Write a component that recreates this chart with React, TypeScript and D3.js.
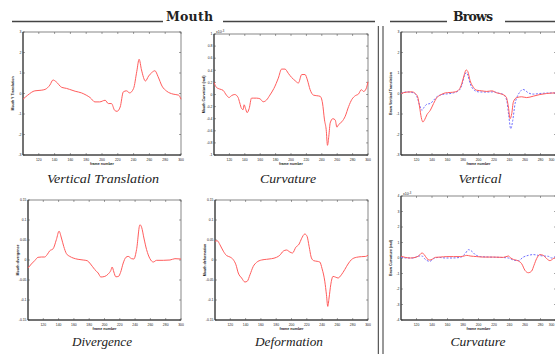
import React from "react";
import * as d3 from "d3";

// x positions are frame numbers, y values in the units of each panel
const xTickValues = [120, 140, 160, 180, 200, 220, 240, 260, 280, 300];

const vtX = [100, 106, 115, 123, 128, 134, 138, 142, 149, 155, 159, 166, 174, 180, 185, 191, 197, 204, 208, 212, 216, 219, 223, 227, 231, 235, 240, 244, 247, 250, 255, 259, 263, 267, 271, 276, 282, 290, 297, 300];
const vtY = [-0.28, -0.08, 0.13, 0.16, 0.2, 0.41, 0.66, 0.57, 0.3, 0.25, 0.2, 0.11, 0.03, -0.08, -0.2, -0.41, -0.41, -0.33, -0.49, -0.49, -0.82, -0.87, -0.66, 0.08, 0.13, 0.03, 0.25, 1.07, 1.67, 1.15, 0.61, 0.85, 1.02, 1.11, 0.82, 0.36, 0.11, -0.03, -0.08, -0.28];

const mcX = [100, 103, 107.4, 111.7, 116.1, 119.6, 122.6, 127, 131.3, 133.5, 135.7, 137.8, 139.1, 140.9, 143, 145.7, 148.7, 150.9, 155.2, 159.6, 163.9, 168.3, 172.6, 177.8, 183.5, 187.8, 192.2, 196.5, 200.9, 205.2, 209.6, 213.9, 218.3, 221.3, 224.8, 229.1, 233.5, 237.8, 240.9, 243.5, 245.7, 247.4, 249.1, 250.9, 254.3, 257.4, 259.6, 261.7, 266.1, 270.4, 274.8, 279.1, 283.5, 287.8, 291.3, 294.3, 297.4, 300];
const mcY = [0.2, 0.12, 0.09, 0.07, -0.01, -0.05, -0.02, 0, -0.05, -0.14, -0.23, -0.25, -0.17, -0.23, -0.3, -0.23, -0.06, -0.06, -0.06, -0.07, -0.12, -0.09, -0.01, 0.1, 0.27, 0.42, 0.42, 0.35, 0.28, 0.23, 0.19, 0.33, 0.33, 0.24, 0.08, -0.01, -0.02, -0.03, -0.14, -0.42, -0.58, -0.84, -0.69, -0.47, -0.4, -0.42, -0.54, -0.5, -0.45, -0.36, -0.2, -0.08, -0.02, 0.01, 0.08, 0.05, 0.09, 0.21];

const bvRedX = [100, 107.7, 114.2, 118.4, 121.5, 124, 126.2, 128.3, 130.5, 133.5, 137.8, 142, 146.3, 150.6, 157.1, 163.5, 169.9, 175.1, 178.5, 181.5, 184.1, 186.2, 189.2, 193.5, 197.8, 204.2, 210.7, 217.1, 223.6, 230, 235.6, 238.6, 240.7, 242.9, 245, 249.3, 255.7, 262.2, 270.7, 279.3, 287.9, 300];
const bvRedY = [0, 0.07, 0.08, 0, -0.16, -0.66, -1.18, -1.39, -1.28, -1.03, -0.82, -0.49, -0.2, -0.08, 0.03, 0.05, 0.08, 0.2, 0.49, 0.9, 1.15, 1.07, 0.62, 0.3, 0.16, 0.13, 0.1, 0.13, 0.03, -0.03, -0.16, -0.66, -1.23, -0.98, -0.41, -0.2, -0.16, -0.2, -0.13, -0.05, 0, 0.03];
const bvBlueX = [100, 107.7, 116.3, 120.6, 124, 127, 130, 133.5, 137.8, 142, 146.3, 152.8, 159.2, 167.8, 175.1, 178.5, 181.5, 184.1, 186.2, 189.2, 193.5, 200, 210.7, 219.3, 225.7, 232.1, 236.4, 239, 241.6, 244.2, 247.2, 250.2, 253.6, 257, 260, 264.3, 270.7, 279.3, 287.9, 300];
const bvBlueY = [0, 0.08, 0.03, -0.16, -0.57, -0.82, -0.66, -0.52, -0.49, -0.33, -0.16, -0.05, -0.02, 0.03, 0.16, 0.41, 0.82, 1.02, 0.9, 0.49, 0.2, 0.08, 0.07, 0.08, 0.02, -0.05, -0.33, -1.07, -1.72, -1.31, -0.49, -0.13, 0.08, 0.2, 0.16, 0.03, -0.03, 0, 0.02, 0.03];

const dvX = [100, 104.4, 108.7, 113.1, 117.5, 121.8, 124.9, 128.4, 132.8, 137.1, 140.6, 143.7, 146.7, 150.2, 154.6, 159, 165.5, 172.1, 177.3, 181.7, 187.3, 191.7, 195.2, 200.4, 204.8, 208.3, 210, 212.2, 214.8, 218.3, 221, 224.5, 228, 231, 235.4, 238.4, 241.9, 246.3, 248.5, 251.5, 255, 259.4, 263.8, 268.1, 276.9, 285.6, 292.1, 300];
const dvY = [-0.02, -0.01, -0.0017, 0.0067, 0.0075, 0.0075, 0.013, 0.023, 0.028, 0.051, 0.072, 0.055, 0.034, 0.016, 0.009, 0.005, 0.0017, 0, -0.0017, -0.01, -0.024, -0.0325, -0.0425, -0.041, -0.035, -0.026, -0.0175, -0.03, -0.042, -0.041, -0.031, -0.0075, 0.0067, 0.009, 0.0033, 0.0025, 0.026, 0.088, 0.082, 0.055, 0.026, 0.0033, -0.005, -0.0008, -0.0008, 0, 0.0033, 0.0025];

const dfX = [100, 103, 106.5, 110.9, 115.2, 119.6, 123.9, 127.4, 130.4, 134.8, 139.1, 142.2, 145.7, 150, 154.3, 160.9, 167.4, 173.9, 180.4, 184.8, 189.1, 193.5, 197.8, 201.3, 205.7, 210, 213, 217.4, 220.4, 223, 226.1, 229.1, 233.5, 237, 240, 243.5, 245.7, 247.4, 249.1, 251.3, 254.3, 257.8, 260.9, 265.2, 269.6, 273.9, 278.3, 284.8, 291.3, 297, 300];
const dfY = [0.047, 0.048, 0.038, 0.022, 0.011, 0.0075, 0.0008, -0.012, -0.0325, -0.045, -0.055, -0.053, -0.037, -0.016, -0.006, 0, 0.0017, 0.0033, 0.0067, 0.012, 0.022, 0.025, 0.02, 0.0175, 0.032, 0.04, 0.053, 0.065, 0.059, 0.034, 0.005, -0.0017, -0.0033, -0.005, -0.022, -0.053, -0.087, -0.116, -0.095, -0.062, -0.041, -0.043, -0.045, -0.037, -0.024, -0.01, 0.0008, 0.0067, 0.0083, 0.009, 0.012];

const bcRedX = [100, 105.6, 112, 118.4, 122.7, 127, 130, 133.5, 136.9, 139.9, 144.2, 150.6, 159.2, 167.8, 176.4, 181.5, 184.9, 189.2, 197.8, 206.4, 219.3, 232.1, 238.6, 241.6, 245, 251.4, 255.7, 260, 264.3, 268.6, 271.6, 275, 279.3, 283.6, 287.9, 292.2, 296.5, 300];
const bcRedY = [0.11, 0.04, 0, 0.04, 0.13, 0.32, 0.22, -0.04, -0.13, -0.09, 0.04, 0.06, 0.09, 0.09, 0.09, 0.13, 0.17, 0.13, 0.09, 0.06, 0.06, 0.04, 0.13, 0, -0.09, -0.19, -0.37, -0.8, -0.95, -0.84, -0.47, -0.04, 0.22, 0.17, -0.04, -0.17, -0.04, 0.04];
const bcBlueX = [100, 107.7, 116.3, 122.7, 127, 131.3, 136.9, 142, 148.5, 157.1, 165.6, 176.4, 182.8, 187.1, 191.4, 195.7, 202.1, 215, 227.8, 238.6, 245, 251.4, 257.9, 264.3, 270.7, 277.1, 283.6, 290, 294.3, 300];
const bcBlueY = [0.04, 0, 0, 0.13, 0.13, -0.09, -0.22, -0.04, 0.04, 0, 0, 0.04, 0.28, 0.54, 0.43, 0.22, 0.09, 0.06, 0.04, 0, -0.13, -0.17, 0.06, 0.17, 0.22, 0.17, 0.13, 0.11, 0, 0.13];

const ticks3 = [-3, -2, -1, 0, 1, 2, 3];
const ticks3Labels = ["-3", "-2", "-1", "0", "1", "2", "3"];
const ticks1 = [-1, -0.8, -0.6, -0.4, -0.2, 0, 0.2, 0.4, 0.6, 0.8, 1];
const ticks1Labels = ["-1", "-0.8", "-0.6", "-0.4", "-0.2", "0", "0.2", "0.4", "0.6", "0.8", "1"];
const ticks015 = [-0.15, -0.1, -0.05, 0, 0.05, 0.1, 0.15];
const ticks015Labels = ["-0.15", "-0.1", "-0.05", "0", "0.05", "0.1", "0.15"];
const ticks4 = [-4, -3, -2, -1, 0, 1, 2, 3, 4];
const ticks4Labels = ["-4", "-3", "-2", "-1", "0", "1", "2", "3", "4"];

const RED = "#ff5c5c";
const BLUE = "#7070ff";
const TITLE_FONT = "'Liberation Serif', 'Times New Roman', 'DejaVu Serif', serif";

type Series = { xs: number[]; ys: number[]; color: string; dash?: string };

type PanelProps = {
  left: number; right: number; top: number; bottom: number;
  yTicks: number[]; yLabels: string[];
  series: Series[]; title: string; ylabel: string; exponent?: boolean;
  titleX: number; titleY: number; titleW: number;
};

function Panel(p: PanelProps) {
  const x = d3.scaleLinear().domain([100, 300]).range([p.left, p.right]);
  const y = d3.scaleLinear().domain([p.yTicks[0], p.yTicks[p.yTicks.length - 1]]).range([p.bottom, p.top]);
  const tl = 2;
  const line = d3.line<[number, number]>().x(d => x(d[0])).y(d => y(d[1])).curve(d3.curveMonotoneX);
  return (
    <g>
      <rect x={p.left} y={p.top} width={p.right - p.left} height={p.bottom - p.top} fill="white" stroke="#555" strokeWidth={0.7} />
      <line x1={p.left} x2={p.left} y1={p.top} y2={p.bottom} stroke="#222" strokeWidth={1} />
      <line x1={p.left} x2={p.right} y1={p.bottom} y2={p.bottom} stroke="#222" strokeWidth={1} />
      {xTickValues.map((v, i) => {
        const xx = x(v);
        const edge = xx > 550;
        return (
          <g key={"xt" + i}>
            <line x1={xx} x2={xx} y1={p.bottom} y2={p.bottom - tl} stroke="#444" strokeWidth={0.5} />
            <line x1={xx} x2={xx} y1={p.top} y2={p.top + tl} stroke="#444" strokeWidth={0.5} />
            <text x={edge ? 554.5 : xx} y={p.bottom + 5.5} fontSize={3.4} textAnchor={edge ? "end" : "middle"} fontFamily="Liberation Sans" fill="#222">{v}</text>
          </g>
        );
      })}
      {p.yTicks.map((v, i) => (
        <g key={"yt" + i}>
          <line x1={p.left} x2={p.left + tl} y1={y(v)} y2={y(v)} stroke="#444" strokeWidth={0.5} />
          <line x1={p.right} x2={p.right - tl} y1={y(v)} y2={y(v)} stroke="#444" strokeWidth={0.5} />
          <text x={p.left - 1.5} y={y(v) + 1.2} fontSize={3.4} textAnchor="end" fontFamily="Liberation Sans" fill="#222">{p.yLabels[i]}</text>
        </g>
      ))}
      {p.exponent && (
        <text x={p.left + 2} y={p.top - 1} fontSize={3.6} fontFamily="Liberation Sans" fill="#222">x10<tspan fontSize={2.6} dy={-1.2}>-3</tspan></text>
      )}
      <text x={(p.left + p.right) / 2} y={p.bottom + 10} fontSize={3.6} fontWeight="bold" textAnchor="middle" fontFamily="Liberation Sans" fill="#222">frame number</text>
      <text transform={`translate(${p.left - 9.5},${(p.top + p.bottom) / 2}) rotate(-90)`} fontSize={3.6} fontWeight="bold" textAnchor="middle" fontFamily="Liberation Sans" fill="#222">{p.ylabel}</text>
      {p.series.map((s, i) => (
        <path key={"s" + i} d={line(s.xs.map((xv, j) => [xv, s.ys[j]] as [number, number])) || ""} fill="none" stroke={s.color} strokeWidth={1} strokeDasharray={s.dash} />
      ))}
      <text x={p.titleX} y={p.titleY} fontSize={13.5} fontStyle="italic" textAnchor="middle" fontFamily={TITLE_FONT}
        textLength={p.titleW} lengthAdjust="spacingAndGlyphs" fill="#222">{p.title}</text>
    </g>
  );
}

export default function App() {
  return (
    <svg width={555} height={354} style={{ position: "absolute", left: 0, top: 0, background: "white" }}>
      <rect x={0} y={0} width={555} height={354} fill="white" />
      {/* headers */}
      <line x1={12} x2={163} y1={21.5} y2={21.5} stroke="#444" strokeWidth={1.3} />
      <text x={166} y={21} fontSize={12.5} fontWeight="bold" fontFamily="DejaVu Serif" textLength={47} fill="#222">Mouth</text>
      <line x1={223} x2={375} y1={21.5} y2={21.5} stroke="#444" strokeWidth={1.3} />
      <line x1={390} x2={447} y1={21.5} y2={21.5} stroke="#444" strokeWidth={1.3} />
      <text x={453} y={21} fontSize={12.5} fontWeight="bold" fontFamily="DejaVu Serif" textLength={40} fill="#222">Brows</text>
      <line x1={505} x2={555} y1={21.5} y2={21.5} stroke="#444" strokeWidth={1.3} />
      {/* separators */}
      <line x1={378.3} x2={378.3} y1={26} y2={354} stroke="#333" strokeWidth={1} />
      <line x1={383} x2={383} y1={26} y2={354} stroke="#333" strokeWidth={1} />

      <Panel left={23} right={181} top={32} bottom={155} yTicks={ticks3} yLabels={ticks3Labels}
        series={[{ xs: vtX, ys: vtY, color: RED }]} title="Vertical Translation" ylabel="Mouth Y Translation"
        titleX={103} titleY={183} titleW={112} />
      <Panel left={214} right={368} top={34} bottom={155} yTicks={ticks1} yLabels={ticks1Labels}
        series={[{ xs: mcX, ys: mcY, color: RED }]} title="Curvature" ylabel="Mouth Curvature (rad)" exponent
        titleX={288} titleY={183} titleW={56} />
      <Panel left={401} right={556} top={32} bottom={155} yTicks={ticks3} yLabels={ticks3Labels}
        series={[{ xs: bvBlueX, ys: bvBlueY, color: BLUE, dash: "2,1.5" }, { xs: bvRedX, ys: bvRedY, color: RED }]}
        title="Vertical" ylabel="Brow Vertical Translation" titleX={480} titleY={183} titleW={43} />
      <Panel left={28} right={181} top={200} bottom={320} yTicks={ticks015} yLabels={ticks015Labels}
        series={[{ xs: dvX, ys: dvY, color: RED }]} title="Divergence" ylabel="Mouth divergence"
        titleX={102} titleY={346} titleW={60} />
      <Panel left={215} right={368} top={200} bottom={320} yTicks={ticks015} yLabels={ticks015Labels}
        series={[{ xs: dfX, ys: dfY, color: RED }]} title="Deformation" ylabel="Mouth deformation"
        titleX={289} titleY={346} titleW={68} />
      <Panel left={401} right={556} top={196} bottom={320} yTicks={ticks4} yLabels={ticks4Labels}
        series={[{ xs: bcBlueX, ys: bcBlueY, color: BLUE, dash: "2,1.5" }, { xs: bcRedX, ys: bcRedY, color: RED }]}
        title="Curvature" ylabel="Brow Curvature (rad)" exponent titleX={478} titleY={346} titleW={55} />
    </svg>
  );
}
